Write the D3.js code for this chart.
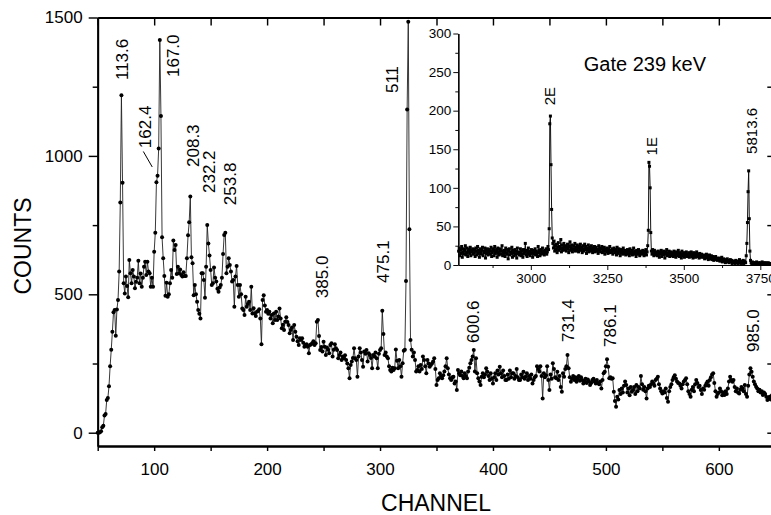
<!DOCTYPE html>
<html><head><meta charset="utf-8">
<script src="https://cdn.jsdelivr.net/npm/d3@7"></script>
<style>
html,body{margin:0;padding:0;background:#fff;}
svg{display:block;font-family:"Liberation Sans",Arial,Helvetica,sans-serif;}
</style></head><body>
<svg id="chart" width="771" height="515"></svg>
<script>
// ---------- main spectrum (one value per channel, starting at channel 50) ----------
const mainChannelStart = 50;
const mainCounts = [
0,0,2,5,20,25,62,68,118,125,
168,240,300,365,435,443,350,445,479,582,
832,1219,903,540,503,564,530,489,624,576,
540,588,564,522,545,560,621,540,575,527,
560,600,618,570,618,582,576,527,560,527,
654,722,905,928,1027,1419,1144,706,630,566,
495,542,491,500,540,588,560,694,660,678,
573,600,576,590,570,564,580,566,566,630,
713,760,853,634,612,497,534,500,473,443,
430,413,576,576,552,488,600,750,684,640,
588,534,540,597,560,546,520,509,525,534,
560,646,714,722,576,600,630,606,582,546,
552,455,564,602,534,491,534,500,449,443,
425,491,455,465,473,443,527,431,450,431,
422,437,440,446,413,320,479,497,460,437,
443,430,437,413,425,395,431,407,437,407,
420,449,413,377,390,371,401,417,400,389,
359,371,380,335,389,365,347,330,317,341,
335,341,325,311,317,320,311,287,317,320,
323,330,317,323,401,407,349,299,310,293,
329,311,281,308,300,287,317,323,275,300,
320,305,299,269,281,290,263,275,269,280,
263,250,233,197,245,257,270,305,269,263,
202,275,305,290,263,238,293,285,299,257,
287,281,270,233,281,275,290,269,233,285,
299,305,441,357,281,290,275,269,240,227,
221,235,227,233,301,260,233,263,240,202,
251,296,300,548,1168,1485,735,335,300,275,
290,263,221,227,240,221,245,230,275,263,
240,215,263,250,238,245,250,257,269,230,
172,190,197,215,205,197,208,221,240,269,
233,210,197,190,200,202,178,185,154,227,
215,208,221,205,197,215,205,197,221,235,
251,263,275,299,221,269,215,197,185,172,
202,215,200,210,233,220,205,190,215,195,
178,200,215,190,225,210,238,215,200,225,
205,190,190,210,195,225,200,215,215,195,
205,230,200,190,190,210,200,220,195,202,
215,190,205,195,210,178,190,200,205,240,
230,221,240,205,124,215,200,208,240,190,
154,210,195,251,230,200,197,220,190,205,
165,148,215,202,230,240,281,233,200,184,
195,205,190,200,184,195,205,188,200,190,
178,185,195,180,192,185,172,180,190,195,
185,178,190,180,175,185,160,190,215,220,
240,265,238,197,200,195,197,148,115,94,
130,120,154,140,160,145,170,185,172,145,
160,135,165,148,154,165,140,172,150,165,
160,205,175,155,165,150,124,160,170,165,
175,185,178,170,190,195,202,175,160,150,
142,150,145,160,125,112,150,165,175,190,
200,208,195,185,180,178,170,160,175,185,
190,197,175,150,140,130,155,165,150,175,
190,180,165,170,154,140,160,155,170,178,
185,170,190,200,210,215,180,150,130,140,
145,160,150,135,145,136,150,140,160,185,
202,190,184,190,165,150,160,145,142,155,
165,160,150,172,140,130,170,210,233,220,
202,185,175,166,160,150,155,145,150,136,
145,140,130,118,125,130,120,135,125
];
const mainXTicks = [100,200,300,400,500,600];
const mainXMinorTicks = [50,150,250,350,450,550,650];
const mainYTicks = [0,500,1000,1500];
const mainYMinorTicks = [250,750,1250];
const xTitle = "CHANNEL";
const yTitle = "COUNTS";

// peak annotations (label text and anchor in channel / counts units)
const peakLabels        = ["113.6","162.4","167.0","208.3","232.2","253.8","385.0","475.1","511","600.6","731.4","786.1","985.0"];
const peakLabelChannels = [71.5, 91.9, 116.7, 134.4, 148.5, 167.1, 248.5, 302.6, 310.6, 382.4, 466.5, 503.7, 630.2];
const peakLabelCounts   = [1274, 1028, 1285, 960, 866, 822, 486, 541, 1227, 324, 328, 310, 292];
const leaderChannels = [90.4, 98.3];
const leaderCounts   = [1016, 960];

// ---------- inset spectrum (gate 239 keV), every 2nd channel from 2764 ----------
const insetChannelStart = 2764, insetChannelStep = 2;
const insetCounts = [
18,22,12,20,15,24,10,17,21,14,19,25,13,16,22,11,18,20,15,23,12,19,17,21,14,
16,20,11,22,18,13,24,15,19,10,21,17,14,20,23,12,18,16,22,9,19,15,21,13,17,
20,14,18,23,11,16,21,19,12,24,15,17,20,10,22,16,13,19,21,14,18,25,12,17,15,
19,11,22,16,14,20,8,18,21,13,17,15,23,10,19,16,12,20,14,18,9,22,15,17,13,
16,21,12,18,14,10,20,15,17,28,13,19,11,16,22,14,18,12,15,20,16,10,19,14,17,
21,13,18,15,11,24,16,19,12,20,14,17,22,15,18,13,19,16,21,14,17,24,20,47,183,
193,130,72,35,28,22,31,18,25,20,27,16,23,29,19,24,21,33,17,26,22,19,28,24,20,
25,18,23,27,21,16,24,30,19,22,26,17,21,25,20,28,18,23,19,26,22,17,24,20,27,
19,23,16,25,21,18,27,20,24,15,22,19,26,17,21,23,18,25,20,16,22,19,24,17,21,
23,18,20,15,25,19,22,17,21,24,16,20,18,23,14,21,19,17,22,15,20,18,24,16,19,
17,21,14,19,22,16,18,20,13,23,17,15,21,18,12,20,16,19,14,22,17,15,19,13,18,
16,20,14,18,12,21,15,17,19,13,16,22,14,18,15,11,19,17,14,20,16,12,18,15,17,
14,19,16,12,18,15,20,13,17,25,45,133,128,100,42,18,14,20,16,12,19,15,17,13,16,
12,18,15,10,17,14,19,11,16,13,18,15,9,17,14,20,12,16,13,18,11,15,17,12,14,
16,11,18,13,15,10,17,14,12,19,15,11,16,13,9,18,14,12,16,10,15,13,17,11,14,
12,16,10,15,13,17,11,14,9,16,12,15,10,13,17,11,14,12,9,15,13,10,14,11,12,
10,13,8,12,11,14,9,12,7,11,13,8,10,12,7,11,9,6,10,8,11,7,9,6,8,
7,9,5,8,6,10,4,7,8,5,6,3,7,5,8,4,6,3,5,7,4,6,2,5,4,
3,5,2,6,4,3,5,2,4,7,3,5,2,4,3,6,2,5,4,3,12,28,55,95,122,
60,18,6,3,2,4,1,3,2,1,3,2,4,1,2,3,1,2,3,1,2,4,1,2,3,
2,1,3,2,1,2,3,1,2,1,2
];
const insetXTicks = [3000,3250,3500,3750];
const insetXMinorTicks = [2875,3125,3375,3625];
const insetYTicks = [0,50,100,150,200,250,300];
const insetYMinorTicks = [25,75,125,175,225,275];
const insetPeakLabels = ["2E","1E","5813.6"];
const insetPeakLabelChannels = [3063,3395,3722];
const insetPeakLabelCounts = [207,142,144];
const insetTitle = "Gate 239 keV";
const insetTitleChannel = 3373, insetTitleCount = 252;

// ---------- drawing ----------
const svg = d3.select("#chart");
const mainData = mainCounts.map((v,i)=>({c: mainChannelStart+i, v}));
const insetData = insetCounts.map((v,i)=>({c: insetChannelStart+i*insetChannelStep, v}));
const fmt = d3.format("d");

const x = d3.scaleLinear().domain([50,650]).range([97.7,775.3]);
const y = d3.scaleLinear().domain([-48,1500]).range([446,17.5]);
const ix = d3.scaleLinear().domain([2763,3800]).range([458.3,775.6]);
const iy = d3.scaleLinear().domain([0,300]).range([265,33.5]);

function styleAxis(g, w, fs){
  g.selectAll("path.domain").attr("stroke","#000").attr("stroke-width",w);
  g.selectAll(".tick line").attr("stroke","#000").attr("stroke-width",w*0.8);
  g.selectAll(".tick text").attr("fill","#000").style("font-size",fs+"px")
    .style("font-family",'"Liberation Sans",Arial,sans-serif');
}

// main axes
const gx = svg.append("g").attr("transform",`translate(0,${y.range()[0]})`)
  .call(d3.axisBottom(x).tickValues(mainXTicks).tickFormat(fmt).tickSize(5).tickPadding(12).tickSizeOuter(0));
styleAxis(gx,1.8,17);
const gxm = svg.append("g").attr("transform",`translate(0,${y.range()[0]})`)
  .call(d3.axisBottom(x).tickValues(mainXMinorTicks).tickSize(5).tickFormat("").tickSizeOuter(0));
styleAxis(gxm,1.8,17);
const gxt = svg.append("g").attr("transform",`translate(0,${y.range()[1]})`)
  .call(d3.axisBottom(x).tickValues(mainXTicks.concat(mainXMinorTicks)).tickSize(8).tickFormat("").tickSizeOuter(0));
styleAxis(gxt,1.8,17);

const gy = svg.append("g").attr("transform",`translate(${x.range()[0]},0)`)
  .call(d3.axisLeft(y).tickValues(mainYTicks).tickFormat(fmt).tickSize(9).tickPadding(6).tickSizeOuter(0));
styleAxis(gy,1.8,17);
const gym = svg.append("g").attr("transform",`translate(${x.range()[0]},0)`)
  .call(d3.axisLeft(y).tickValues(mainYMinorTicks).tickSize(5).tickFormat("").tickSizeOuter(0));
styleAxis(gym,1.8,17);
const gyr = svg.append("g").attr("transform",`translate(${x.range()[1]},0)`)
  .call(d3.axisLeft(y).tickValues(mainYTicks.concat(mainYMinorTicks)).tickSize(-8).tickFormat("").tickSizeOuter(0));
styleAxis(gyr,1.8,17);
gyr.selectAll(".tick line").attr("x2",-8);

// axis titles
svg.append("text").attr("x",436).attr("y",511).attr("text-anchor","middle")
  .style("font-size","23px").attr("fill","#000").text(xTitle);
svg.append("text").attr("transform","translate(31,246) rotate(-90)").attr("text-anchor","middle")
  .style("font-size","23px").attr("fill","#000").text(yTitle);

// main spectrum
svg.append("path").datum(mainData)
  .attr("fill","none").attr("stroke","#222").attr("stroke-width",0.9)
  .attr("d", d3.line().x(d=>x(d.c)).y(d=>y(d.v)));
svg.append("g").selectAll("circle").data(mainData).join("circle")
  .attr("cx",d=>x(d.c)).attr("cy",d=>y(d.v)).attr("r",2).attr("fill","#000");

// peak labels
svg.append("g").selectAll("text").data(peakLabels).join("text")
  .attr("transform",(d,i)=>`translate(${x(peakLabelChannels[i])},${y(peakLabelCounts[i])}) rotate(-90)`)
  .attr("dy","0.35em").style("font-size","17px").attr("fill","#000").text(d=>d);
svg.append("line")
  .attr("x1",x(leaderChannels[0])).attr("y1",y(leaderCounts[0]))
  .attr("x2",x(leaderChannels[1])).attr("y2",y(leaderCounts[1]))
  .attr("stroke","#000").attr("stroke-width",1);

// inset axes
const igx = svg.append("g").attr("transform",`translate(0,${iy.range()[0]})`)
  .call(d3.axisBottom(ix).tickValues(insetXTicks).tickFormat(fmt).tickSize(5).tickPadding(3).tickSizeOuter(0));
styleAxis(igx,1.2,13.5);
const igxm = svg.append("g").attr("transform",`translate(0,${iy.range()[0]})`)
  .call(d3.axisBottom(ix).tickValues(insetXMinorTicks).tickSize(3).tickFormat("").tickSizeOuter(0));
styleAxis(igxm,1.2,13.5);
const igy = svg.append("g").attr("transform",`translate(${ix.range()[0]},0)`)
  .call(d3.axisLeft(iy).tickValues(insetYTicks).tickFormat(fmt).tickSize(5).tickPadding(2).tickSizeOuter(0));
styleAxis(igy,1.2,13.5);
const igym = svg.append("g").attr("transform",`translate(${ix.range()[0]},0)`)
  .call(d3.axisLeft(iy).tickValues(insetYMinorTicks).tickSize(3).tickFormat("").tickSizeOuter(0));
styleAxis(igym,1.2,13.5);

// inset spectrum
svg.append("path").datum(insetData)
  .attr("fill","none").attr("stroke","#111").attr("stroke-width",1)
  .attr("d", d3.line().x(d=>ix(d.c)).y(d=>iy(d.v)));
svg.append("g").selectAll("rect").data(insetData).join("rect")
  .attr("x",d=>ix(d.c)-1.5).attr("y",d=>iy(d.v)-1.5).attr("width",3).attr("height",3).attr("fill","#000");

svg.append("g").selectAll("text").data(insetPeakLabels).join("text")
  .attr("transform",(d,i)=>`translate(${ix(insetPeakLabelChannels[i])},${iy(insetPeakLabelCounts[i])}) rotate(-90)`)
  .attr("dy","0.35em").style("font-size","15px").attr("fill","#000").text(d=>d);
svg.append("text").attr("x",ix(insetTitleChannel)).attr("y",iy(insetTitleCount))
  .attr("text-anchor","middle").style("font-size","20px").attr("fill","#000").text(insetTitle);
</script>
</body></html>
